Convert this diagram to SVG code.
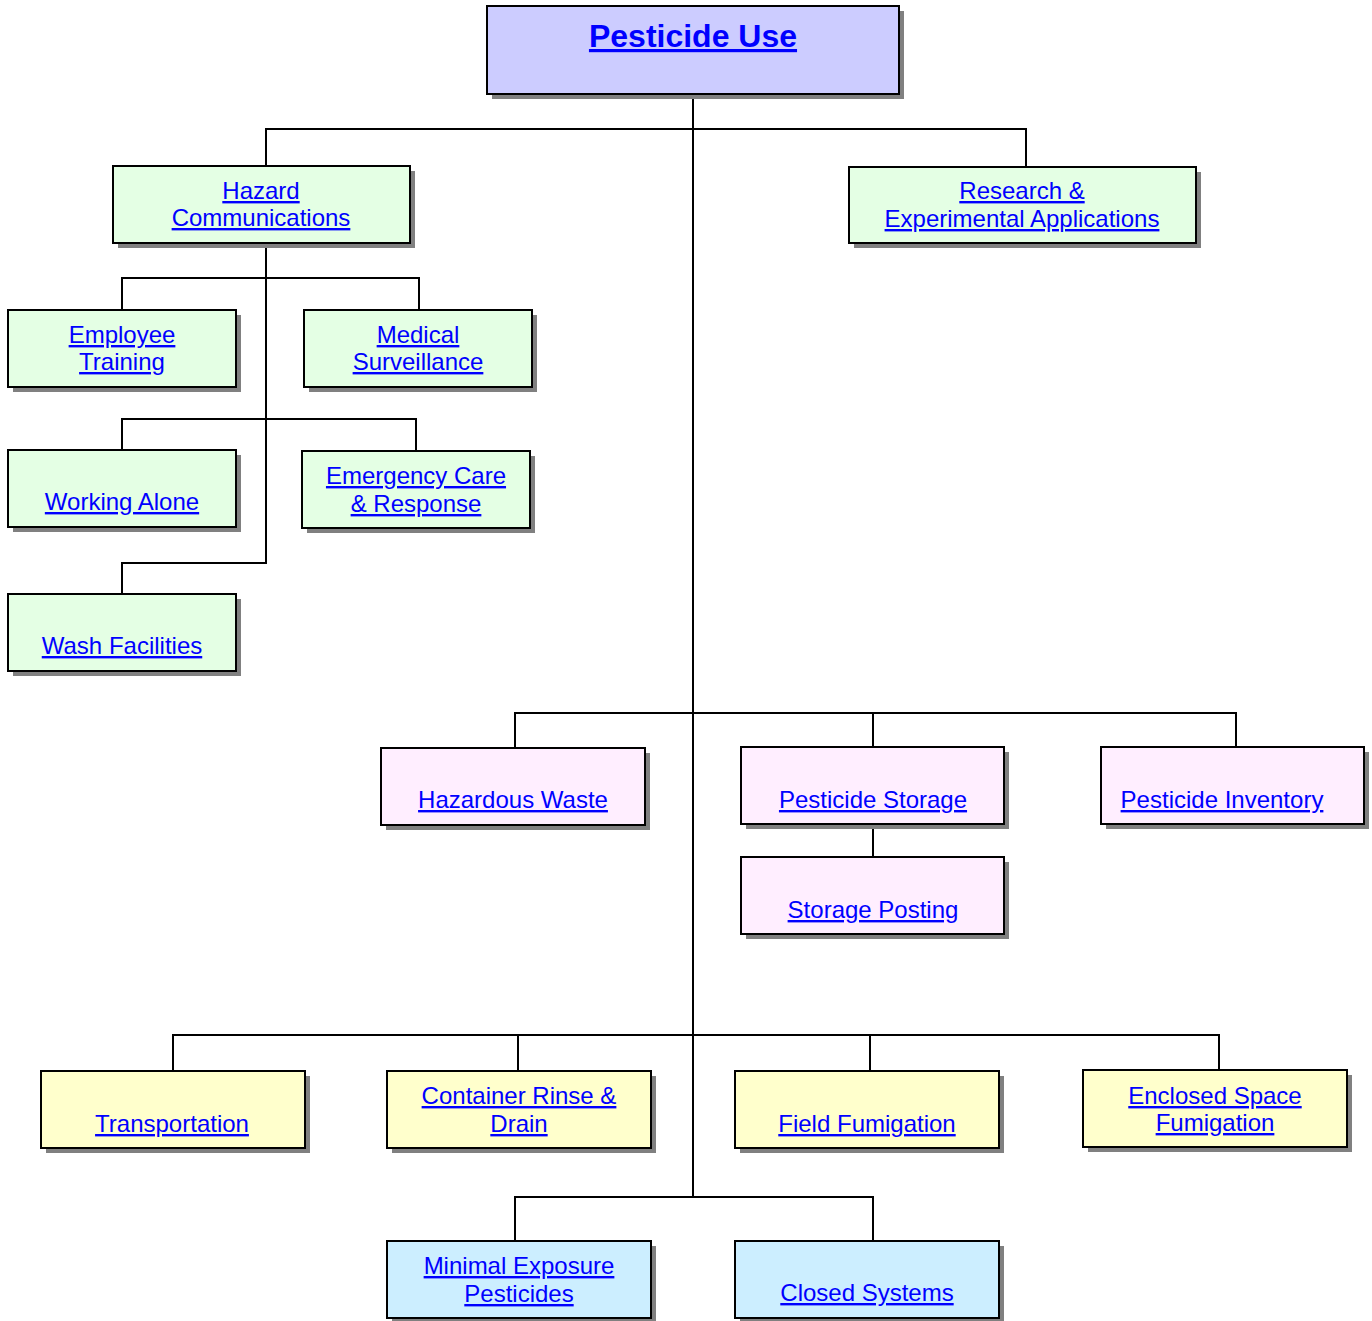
<svg xmlns="http://www.w3.org/2000/svg" width="1372" height="1321" viewBox="0 0 1372 1321">
<style>
.sh{fill:#808080}
.bx{stroke:#000;stroke-width:2}
.top{fill:#ccccff}
.g{fill:#e4ffe4}
.p{fill:#ffeeff}
.y{fill:#ffffcc}
.b{fill:#cceeff}
text{font-family:"Liberation Sans",Arial,sans-serif;font-size:24px;fill:#0000ff;text-anchor:middle;text-decoration:underline}
.t{font-size:32px;font-weight:bold}
.c{fill:none;stroke:#000;stroke-width:2}
</style>
<g id="connectors">
<path class="c" d="M693,94V1197M266,166V129H1026V167"/>
<path class="c" d="M266,243V563H122V594M122,310V278H419V310M122,450V419H416V451"/>
<path class="c" d="M515,748V713H1236V747M873,713V747M873,824V857"/>
<path class="c" d="M173,1071V1035H1219V1070M518,1035V1071M870,1035V1071"/>
<path class="c" d="M515,1241V1197H873V1241"/>
</g>
<g id="n-pesticide-use"><rect class="sh" x="492" y="11" width="412" height="88"/><rect class="bx top" x="487" y="6" width="412" height="88"/><text class="t" x="693" y="47">Pesticide Use</text></g>
<g id="n-hazard-comm"><rect class="sh" x="118" y="171" width="297" height="77"/><rect class="bx g" x="113" y="166" width="297" height="77"/><text x="261" y="199">Hazard</text><text x="261" y="226">Communications</text></g>
<g id="n-research"><rect class="sh" x="854" y="172" width="347" height="76"/><rect class="bx g" x="849" y="167" width="347" height="76"/><text x="1022" y="199">Research &amp;</text><text x="1022" y="227">Experimental Applications</text></g>
<g id="n-employee-training"><rect class="sh" x="13" y="315" width="228" height="77"/><rect class="bx g" x="8" y="310" width="228" height="77"/><text x="122" y="343">Employee</text><text x="122" y="370">Training</text></g>
<g id="n-medical"><rect class="sh" x="309" y="315" width="228" height="77"/><rect class="bx g" x="304" y="310" width="228" height="77"/><text x="418" y="343">Medical</text><text x="418" y="370">Surveillance</text></g>
<g id="n-working-alone"><rect class="sh" x="13" y="455" width="228" height="77"/><rect class="bx g" x="8" y="450" width="228" height="77"/><text x="122" y="510">Working Alone</text></g>
<g id="n-emergency"><rect class="sh" x="307" y="456" width="228" height="77"/><rect class="bx g" x="302" y="451" width="228" height="77"/><text x="416" y="484">Emergency Care</text><text x="416" y="512">&amp; Response</text></g>
<g id="n-wash"><rect class="sh" x="13" y="599" width="228" height="77"/><rect class="bx g" x="8" y="594" width="228" height="77"/><text x="122" y="654">Wash Facilities</text></g>
<g id="n-hazardous-waste"><rect class="sh" x="386" y="753" width="264" height="77"/><rect class="bx p" x="381" y="748" width="264" height="77"/><text x="513" y="808">Hazardous Waste</text></g>
<g id="n-pesticide-storage"><rect class="sh" x="746" y="752" width="263" height="77"/><rect class="bx p" x="741" y="747" width="263" height="77"/><text x="873" y="808">Pesticide Storage</text></g>
<g id="n-pesticide-inventory"><rect class="sh" x="1106" y="752" width="263" height="77"/><rect class="bx p" x="1101" y="747" width="263" height="77"/><text x="1222" y="808">Pesticide Inventory</text></g>
<g id="n-storage-posting"><rect class="sh" x="746" y="862" width="263" height="77"/><rect class="bx p" x="741" y="857" width="263" height="77"/><text x="873" y="918">Storage Posting</text></g>
<g id="n-transportation"><rect class="sh" x="46" y="1076" width="264" height="77"/><rect class="bx y" x="41" y="1071" width="264" height="77"/><text x="172" y="1132">Transportation</text></g>
<g id="n-container"><rect class="sh" x="392" y="1076" width="264" height="77"/><rect class="bx y" x="387" y="1071" width="264" height="77"/><text x="519" y="1104">Container Rinse &amp;</text><text x="519" y="1132">Drain</text></g>
<g id="n-field"><rect class="sh" x="740" y="1076" width="264" height="77"/><rect class="bx y" x="735" y="1071" width="264" height="77"/><text x="867" y="1132">Field Fumigation</text></g>
<g id="n-enclosed"><rect class="sh" x="1088" y="1075" width="264" height="77"/><rect class="bx y" x="1083" y="1070" width="264" height="77"/><text x="1215" y="1104">Enclosed Space</text><text x="1215" y="1131">Fumigation</text></g>
<g id="n-minimal"><rect class="sh" x="392" y="1246" width="264" height="77"/><rect class="bx b" x="387" y="1241" width="264" height="77"/><text x="519" y="1274">Minimal Exposure</text><text x="519" y="1302">Pesticides</text></g>
<g id="n-closed"><rect class="sh" x="740" y="1246" width="264" height="77"/><rect class="bx b" x="735" y="1241" width="264" height="77"/><text x="867" y="1301">Closed Systems</text></g>
</svg>
